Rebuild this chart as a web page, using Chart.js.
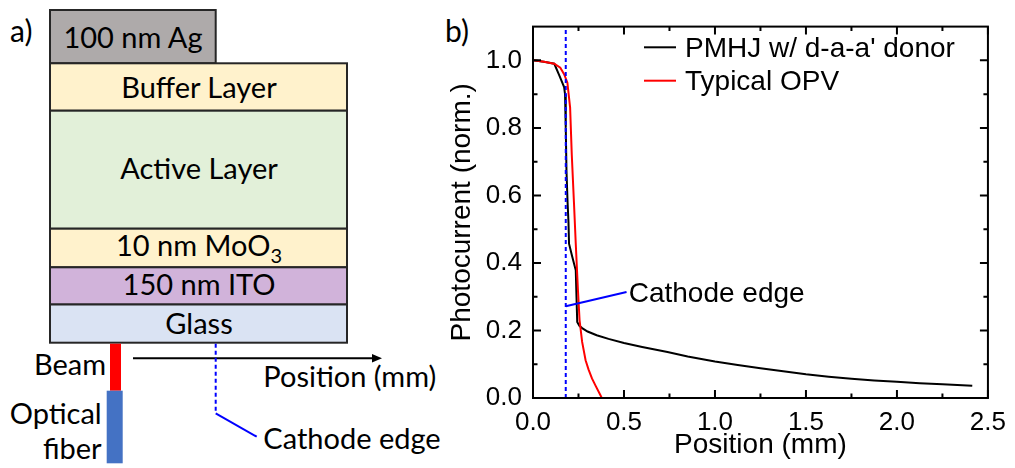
<!DOCTYPE html>
<html><head><meta charset="utf-8">
<script src="https://cdn.jsdelivr.net/npm/chart.js@4"></script>
<style>
html,body{margin:0;padding:0;background:#fff;}
#wrap{position:relative;width:1015px;height:468px;overflow:hidden;background:#fff;}
#diagram{position:absolute;left:0;top:0;}
#c{position:absolute;left:0;top:0;}
</style></head><body>
<div id="wrap">
<svg id="diagram" width="1015" height="468" xmlns="http://www.w3.org/2000/svg">
  <g stroke="#262626" stroke-width="2">
    <rect x="50" y="10" width="165.7" height="53.3" fill="#aeaaaa"/>
    <rect x="50" y="63.3" width="297" height="47.4" fill="#fff2cc"/>
    <rect x="50" y="110.7" width="297" height="118" fill="#e2f0d9"/>
    <rect x="50" y="228.7" width="297" height="38.6" fill="#fff2cc"/>
    <rect x="50" y="267.3" width="297" height="37.2" fill="#d1b3da"/>
    <rect x="50" y="304.5" width="297" height="38.2" fill="#dae3f3"/>
  </g>
  <rect x="110" y="343.7" width="11" height="47" fill="#ff0000"/>
  <rect x="106.7" y="390.7" width="16" height="72.6" fill="#4472c4"/>
  <line x1="133" y1="358.3" x2="374" y2="358.3" stroke="#000" stroke-width="2"/>
  <polygon points="382,358.3 372,354 372,362.6" fill="#000"/>
  <line x1="215.7" y1="343.7" x2="215.7" y2="413.3" stroke="#0000ff" stroke-width="2" stroke-dasharray="4 3"/>
  <line x1="215.7" y1="413.3" x2="256.7" y2="436.7" stroke="#0000ff" stroke-width="2"/>
  <g font-family="Lato, 'Open Sans', sans-serif" font-size="29" fill="#000">
    <text x="10" y="42" font-size="30">a)</text>
    <text x="445" y="42" font-size="30">b)</text>
    <text x="133" y="48.3" text-anchor="middle">100 nm Ag</text>
    <text x="199" y="98.3" text-anchor="middle">Buffer Layer</text>
    <text x="199" y="178.8" text-anchor="middle">Active Layer</text>
    <text x="199" y="255.5" text-anchor="middle">10 nm MoO<tspan font-size="20" dy="7">3</tspan></text>
    <text x="199" y="294.5" text-anchor="middle">150 nm ITO</text>
    <text x="199" y="333.8" text-anchor="middle">Glass</text>
    <text x="106" y="374.5" text-anchor="end">Beam</text>
    <text x="101.7" y="423.5" text-anchor="end">Optical</text>
    <text x="101.7" y="458.5" text-anchor="end">fiber</text>
    <text x="263.3" y="386.7">Position (mm)</text>
    <text x="263.3" y="448.5">Cathode edge</text>
  </g>
</svg>
<canvas id="c" width="1015" height="468"></canvas>
</div>
<script>
// ---- data ----
const pmhjLabel = "PMHJ w/ d-a-a' donor";
const pmhjX = [0, 0.06, 0.117, 0.145, 0.171, 0.176, 0.180, 0.184, 0.19, 0.195, 0.198, 0.215, 0.235, 0.239, 0.243, 0.255, 0.27, 0.30, 0.35, 0.415, 0.5, 0.6, 0.739, 0.85, 1.0, 1.125, 1.25, 1.375, 1.5, 1.625, 1.75, 1.875, 2.0, 2.125, 2.25, 2.414];
const pmhjY = [1.0, 0.996, 0.99, 0.955, 0.921, 0.90, 0.80, 0.673, 0.58, 0.52, 0.457, 0.42, 0.378, 0.30, 0.225, 0.214, 0.207, 0.197, 0.186, 0.175, 0.163, 0.151, 0.136, 0.123, 0.108, 0.098, 0.088, 0.079, 0.070, 0.063, 0.057, 0.052, 0.048, 0.044, 0.041, 0.036];

const opvLabel = "Typical OPV";
const opvX = [0, 0.06, 0.117, 0.15, 0.171, 0.189, 0.204, 0.213, 0.225, 0.235, 0.247, 0.256, 0.27, 0.289, 0.305, 0.324, 0.345, 0.37, 0.378];
const opvY = [1.0, 0.996, 0.99, 0.978, 0.959, 0.934, 0.86, 0.722, 0.58, 0.457, 0.319, 0.23, 0.166, 0.112, 0.085, 0.058, 0.035, 0.009, 0.0];

const cathodeEdgeX = 0.18;
const cathodeLineX = [0.18, 0.514];
const cathodeLineY = [0.272, 0.314];
const cathodeText = "Cathode edge";
const cathodeTextPos = [0.526, 0.314];

const xTickValues = [0, 0.5, 1.0, 1.5, 2.0, 2.5];
const xMinorValues = [0.25, 0.75, 1.25, 1.75, 2.25];
const yTickValues = [0, 0.2, 0.4, 0.6, 0.8, 1.0];
const yMinorValues = [0.1, 0.3, 0.5, 0.7, 0.9];
const xRange = [0, 2.5];
const yRange = [0, 1.1];
const xTitle = "Position (mm)";
const yTitle = "Photocurrent (norm.)";

// ---- chart ----
const FONT = "'Liberation Sans', Arial, sans-serif";
const toPts = (xs, ys) => xs.map((x, i) => ({x, y: ys[i]}));

const framePlugin = {
  id: 'frame',
  afterDatasetsDraw(chart) {
    const {ctx, chartArea: a, scales: {x, y}} = chart;
    ctx.save();
    ctx.strokeStyle = '#000';
    ctx.lineWidth = 2;
    ctx.strokeRect(a.left, a.top, a.right - a.left, a.bottom - a.top);
    ctx.beginPath();
    const tickX = (v, len) => {
      const p = x.getPixelForValue(v);
      ctx.moveTo(p, a.bottom); ctx.lineTo(p, a.bottom - len);
      ctx.moveTo(p, a.top); ctx.lineTo(p, a.top + len);
    };
    const tickY = (v, len) => {
      const p = y.getPixelForValue(v);
      ctx.moveTo(a.left, p); ctx.lineTo(a.left + len, p);
      ctx.moveTo(a.right, p); ctx.lineTo(a.right - len, p);
    };
    xTickValues.forEach(v => tickX(v, 8));
    xMinorValues.forEach(v => tickX(v, 4.5));
    yTickValues.forEach(v => tickY(v, 8));
    yMinorValues.forEach(v => tickY(v, 4.5));
    ctx.stroke();
    ctx.restore();
  },
  afterDraw(chart) {
    const {ctx, scales: {x, y}} = chart;
    ctx.save();
    const ds = chart.data.datasets.filter(d => d.inLegend);
    ds.forEach((d, i) => {
      const ly = 47.3 + i * 33.4;
      ctx.strokeStyle = d.borderColor;
      ctx.lineWidth = 2;
      ctx.beginPath(); ctx.moveTo(644, ly); ctx.lineTo(676, ly); ctx.stroke();
      ctx.fillStyle = '#000';
      ctx.font = '28px ' + FONT;
      ctx.textBaseline = 'alphabetic';
      ctx.textAlign = 'left';
      ctx.fillText(d.label, 685, ly + 9.6);
    });
    ctx.fillStyle = '#000';
    ctx.font = '28px ' + FONT;
    ctx.textBaseline = 'alphabetic';
    ctx.textAlign = 'left';
    ctx.fillText(cathodeText, x.getPixelForValue(cathodeTextPos[0]), y.getPixelForValue(cathodeTextPos[1]) + 10);
    ctx.restore();
  }
};

new Chart(document.getElementById('c'), {
  type: 'line',
  data: {
    datasets: [
      {label: pmhjLabel, data: toPts(pmhjX, pmhjY), borderColor: '#000000', borderWidth: 2, pointRadius: 0, tension: 0, fill: false, order: 4, inLegend: true},
      {label: opvLabel, data: toPts(opvX, opvY), borderColor: '#ff0000', borderWidth: 2, pointRadius: 0, tension: 0, fill: false, order: 3, inLegend: true},
      {label: 'cathode', data: [{x: cathodeEdgeX, y: yRange[0]}, {x: cathodeEdgeX, y: yRange[1]}], borderColor: '#0000ff', borderWidth: 2, borderDash: [4, 3], pointRadius: 0, fill: false, order: 1},
      {label: 'pointer', data: toPts(cathodeLineX, cathodeLineY), borderColor: '#0000ff', borderWidth: 2, pointRadius: 0, fill: false, order: 1}
    ]
  },
  options: {
    responsive: false,
    animation: false,
    layout: {padding: {left: 445, top: 25, right: 19, bottom: 6}},
    scales: {
      x: {
        type: 'linear', position: 'bottom', min: xRange[0], max: xRange[1],
        afterBuildTicks: s => { s.ticks = xTickValues.map(v => ({value: v})); },
        ticks: {font: {family: FONT, size: 26}, color: '#000', padding: 9, maxRotation: 0, autoSkip: false,
                callback: v => Number(v).toFixed(1)},
        grid: {display: false, drawTicks: false},
        border: {display: false},
        title: {display: true, text: xTitle, color: '#000', font: {family: FONT, size: 28}, padding: 0},
        afterFit: s => { s.height = 64; }
      },
      y: {
        type: 'linear', position: 'left', min: yRange[0], max: yRange[1],
        afterBuildTicks: s => { s.ticks = yTickValues.map(v => ({value: v})); },
        ticks: {font: {family: FONT, size: 26}, color: '#000', padding: 11, autoSkip: false,
                callback: v => Number(v).toFixed(1)},
        grid: {display: false, drawTicks: false},
        border: {display: false},
        title: {display: true, text: yTitle, color: '#000', font: {family: FONT, size: 28}, padding: 0},
        afterFit: s => { s.width = 88; }
      }
    },
    plugins: {legend: {display: false}, tooltip: {enabled: false}}
  },
  plugins: [framePlugin]
});
</script>
</body></html>
